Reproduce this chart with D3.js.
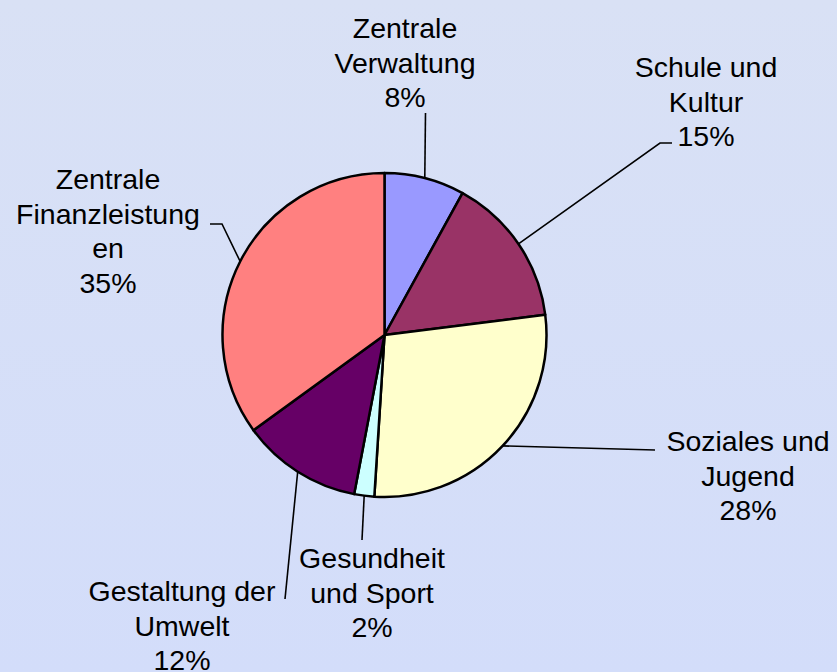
<!DOCTYPE html>
<html>
<head>
<meta charset="utf-8">
<script src="https://cdn.jsdelivr.net/npm/d3@7"></script>
<style>
html,body{margin:0;padding:0;}
svg{display:block;}
</style>
</head>
<body>
<svg id="chart" width="837" height="672"></svg>
<script>
// Data
const categories = ["Zentrale Verwaltung", "Schule und Kultur", "Soziales und Jugend", "Gesundheit und Sport", "Gestaltung der Umwelt", "Zentrale Finanzleistungen"];
const values = [8, 15, 28, 2, 12, 35];
const labelLines = [
  ["Zentrale", "Verwaltung", "8%"],
  ["Schule und", "Kultur", "15%"],
  ["Soziales und", "Jugend", "28%"],
  ["Gesundheit", "und Sport", "2%"],
  ["Gestaltung der", "Umwelt", "12%"],
  ["Zentrale", "Finanzleistung", "en", "35%"]
];
const colors = ["#9999ff", "#993366", "#ffffcc", "#ccffff", "#660066", "#ff8080"];

// Layout (label anchors and leader paths)
const labelPos = [[405, 38], [706, 77], [748, 451], [372, 568], [182, 601], [108, 189]];
const leaderEnds = [
  [[425.5, 113]],
  [[660, 143], [672, 143]],
  [[655, 450]],
  [[362, 540]],
  [[285, 599]],
  [[222, 224], [210, 224]]
];

const W = 837, H = 672;
const cx = 384.5, cy = 335, R = 162;
const svg = d3.select("#chart");

const defs = svg.append("defs");
const grad = defs.append("linearGradient").attr("id", "bg").attr("x1", 0).attr("y1", 0).attr("x2", 0).attr("y2", 1);
grad.append("stop").attr("offset", "0%").attr("stop-color", "#d9e1f5");
grad.append("stop").attr("offset", "100%").attr("stop-color", "#d3ddfa");
svg.append("rect").attr("width", W).attr("height", H).attr("fill", "url(#bg)");

const pie = d3.pie().sort(null).value(d => d)(values);
const arc = d3.arc().innerRadius(0).outerRadius(R);

const g = svg.append("g").attr("transform", `translate(${cx},${cy})`);
g.selectAll("path.slice").data(pie).enter().append("path")
  .attr("class", "slice")
  .attr("d", arc)
  .attr("fill", (d, i) => colors[i])
  .attr("stroke", "#000")
  .attr("stroke-width", 2.5)
  .attr("stroke-linejoin", "round");

// Leader lines
const line = d3.line();
pie.forEach((d, i) => {
  const a = (d.startAngle + d.endAngle) / 2;
  const start = [cx + R * Math.sin(a), cy - R * Math.cos(a)];
  svg.append("path")
    .attr("d", line([start, ...leaderEnds[i]]))
    .attr("fill", "none")
    .attr("stroke", "#000")
    .attr("stroke-width", 1.6);
});

// Labels
labelLines.forEach((lines, i) => {
  const t = svg.append("text")
    .attr("x", labelPos[i][0])
    .attr("y", labelPos[i][1])
    .attr("text-anchor", "middle")
    .attr("font-family", "'Liberation Sans', Arial, sans-serif")
    .attr("font-size", 28.5)
    .attr("fill", "#000");
  lines.forEach((s, j) => {
    t.append("tspan").attr("x", labelPos[i][0]).attr("dy", j === 0 ? 0 : 34.5).text(s);
  });
});
</script>
</body>
</html>
